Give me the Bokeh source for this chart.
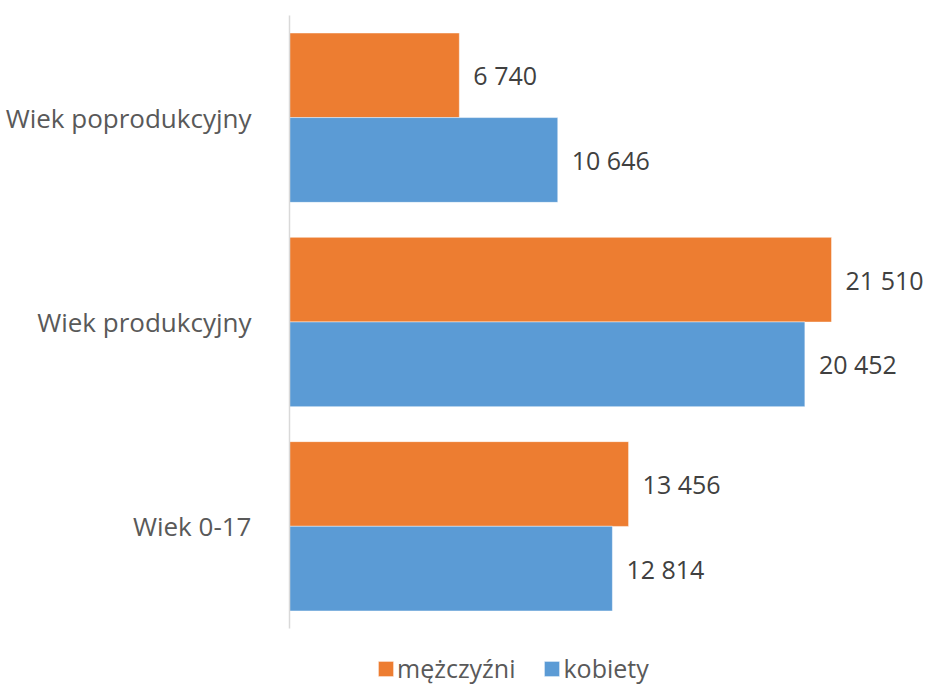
from bokeh.plotting import figure
from bokeh.models import ColumnDataSource, Range1d, Legend, LegendItem, FixedTicker
from bokeh.transform import dodge
from bokeh.core.properties import value
from bokeh.embed import file_html
from bokeh.resources import INLINE

categories = ["Wiek 0-17", "Wiek produkcyjny", "Wiek poprodukcyjny"]
mezczyzni = [13456, 21510, 6740]
kobiety = [12814, 20452, 10646]
series_names = ["mężczyźni", "kobiety"]
colors = ["#ED7D31", "#5B9BD5"]

def fmt(v):
    return f"{v:,}".replace(",", " ")

pos = list(range(len(categories)))
src = ColumnDataSource(dict(
    pos=pos,
    m=mezczyzni,
    k=kobiety,
    m_lbl=[fmt(v) for v in mezczyzni],
    k_lbl=[fmt(v) for v in kobiety],
))

FONT = "Open Sans"
n = len(categories)

p = figure(frame_width=637, frame_height=670,
           y_range=Range1d(-0.5 - 0.2790, n - 0.5),
           x_range=(0, 25278), output_backend="svg", toolbar_location=None,
           x_axis_location=None, min_border_left=289, min_border_right=0,
           min_border_top=15, min_border_bottom=0)

r1 = p.hbar(y=dodge("pos", 0.207), right="m", height=0.415,
            source=src, color=colors[0], line_color="white", line_width=0.5)
r2 = p.hbar(y=dodge("pos", -0.207), right="k", height=0.415,
            source=src, color=colors[1], line_color="white", line_width=0.5)

p.text(x="m", y=dodge("pos", 0.207), text="m_lbl", source=src,
       x_offset=14, text_baseline="middle", text_align="left",
       text_font=value(FONT), text_font_size="25px", text_color="#404040")
p.text(x="k", y=dodge("pos", -0.207), text="k_lbl", source=src,
       x_offset=14, text_baseline="middle", text_align="left",
       text_font=value(FONT), text_font_size="25px", text_color="#404040")

p.grid.visible = False
p.outline_line_color = None
ax = p.yaxis[0]
ax.ticker = FixedTicker(ticks=pos)
ax.major_label_overrides = {i: c for i, c in zip(pos, categories)}
ax.bounds = (-0.5, n - 0.5)
ax.major_tick_line_color = None
ax.minor_tick_line_color = None
ax.axis_line_color = "#D9D9D9"
ax.axis_line_width = 1.5
ax.major_label_standoff = 32
ax.major_label_text_font = FONT
ax.major_label_text_font_size = "26px"
ax.major_label_text_color = "#595959"

legend = Legend(items=[LegendItem(label=series_names[0], renderers=[r1]),
                       LegendItem(label=series_names[1], renderers=[r2])],
                orientation="horizontal", location=(87, 0),
                label_text_font=FONT, label_text_font_size="25px",
                label_text_color="#595959", glyph_width=19, glyph_height=19,
                label_standoff=2, spacing=27, border_line_color=None,
                padding=0, margin=0, background_fill_alpha=0)
p.add_layout(legend, "center")

open("out.html", "w").write(file_html(p, INLINE))
